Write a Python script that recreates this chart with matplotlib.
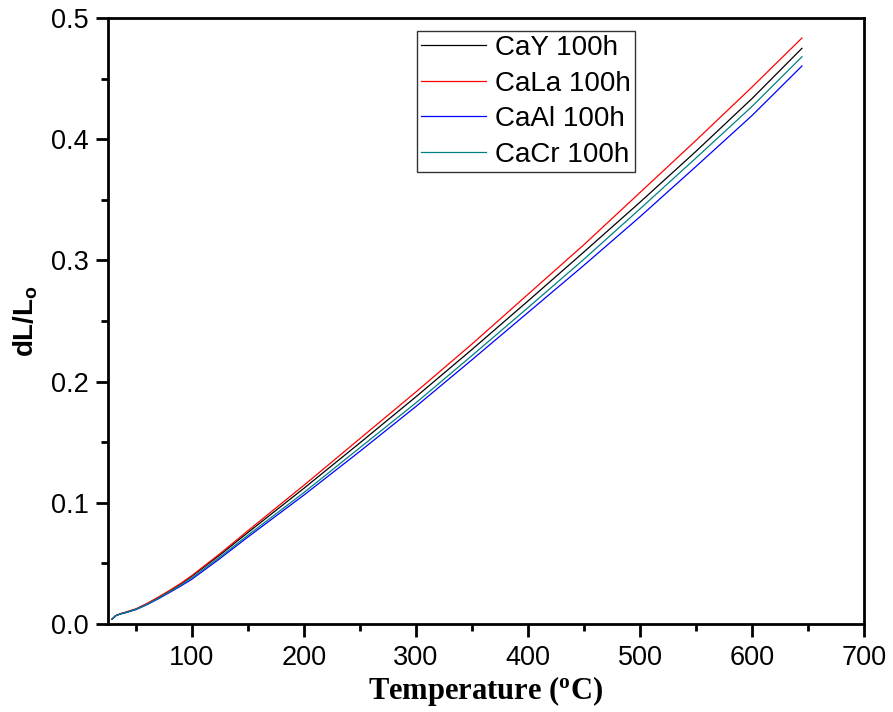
import matplotlib
matplotlib.use("Agg")
import matplotlib.pyplot as plt
from matplotlib.ticker import MultipleLocator

plt.rcParams["mathtext.fontset"] = "custom"
plt.rcParams["mathtext.bf"] = "Liberation Serif:bold"
plt.rcParams["mathtext.sf"] = "Liberation Sans:bold"

# Dilatometry data: relative expansion vs temperature
temperature = [28.6, 32, 36, 40, 50, 60, 70, 80, 90, 100, 125, 150, 200,
               250, 300, 350, 400, 450, 500, 550, 600, 644.6]
cay = [0.004, 0.0069, 0.0084, 0.0094, 0.0123, 0.0167, 0.0218, 0.0272, 0.0330,
       0.0395, 0.0570, 0.0755, 0.1120, 0.1495, 0.1875, 0.2265, 0.2665, 0.3070,
       0.3480, 0.3900, 0.4335, 0.4750]
cala = [0.004, 0.0070, 0.0085, 0.0095, 0.0125, 0.0170, 0.0222, 0.0277, 0.0335,
        0.0400, 0.0580, 0.0770, 0.1145, 0.1530, 0.1915, 0.2310, 0.2720, 0.3130,
        0.3560, 0.3990, 0.4430, 0.4835]
caal = [0.004, 0.0068, 0.0082, 0.0091, 0.0119, 0.0160, 0.0208, 0.0260, 0.0313,
        0.0370, 0.0540, 0.0718, 0.1064, 0.1425, 0.1795, 0.2180, 0.2570, 0.2960,
        0.3360, 0.3775, 0.4195, 0.4604]
cacr = [0.004, 0.0069, 0.0083, 0.0092, 0.0121, 0.0163, 0.0213, 0.0266, 0.0321,
        0.0382, 0.0553, 0.0733, 0.1085, 0.1455, 0.1825, 0.2215, 0.2610, 0.3010,
        0.3425, 0.3845, 0.4270, 0.4680]

labels = ["CaY 100h", "CaLa 100h", "CaAl 100h", "CaCr 100h"]
colors = ["#000000", "#ff0000", "#0000ff", "#008080"]

fig = plt.figure(figsize=(8.93, 7.12), dpi=100)
ax = fig.add_axes([0.1209, 0.1236, 0.8466, 0.8511])

for series, lab, col in zip([cay, cala, caal, cacr], labels, colors):
    ax.plot(temperature, series, color=col, lw=0.9, label=lab)

ax.set_xlim(25, 700)
ax.set_ylim(0.0, 0.5)
ax.xaxis.set_major_locator(MultipleLocator(100))
ax.xaxis.set_minor_locator(MultipleLocator(50))
ax.yaxis.set_major_locator(MultipleLocator(0.1))
ax.yaxis.set_minor_locator(MultipleLocator(0.05))

for sp in ax.spines.values():
    sp.set_linewidth(2.0)

ax.tick_params(which="major", direction="out", length=9, width=2.0,
               labelsize=19.5, pad=5)
ax.tick_params(which="minor", direction="out", length=5, width=2.0)
for lab in ax.get_xticklabels() + ax.get_yticklabels():
    lab.set_fontfamily("Liberation Sans")
ax.tick_params(axis="x", pad=6)

ax.set_xlabel("Temperature ($\\mathbf{^{o}}$C)", fontsize=22,
              fontfamily="Liberation Serif", fontweight="bold", labelpad=2)
ax.set_ylabel("dL/L$_\\mathsf{o}$", fontsize=20,
              fontfamily="Liberation Sans", fontweight="bold", labelpad=8)

leg = ax.legend(loc="upper left", bbox_to_anchor=(0.409, 0.9785),
                borderaxespad=0, frameon=True, fancybox=False,
                prop={"family": "Liberation Sans", "size": 20},
                handlelength=2.34, handletextpad=0.32, borderpad=0.15,
                labelspacing=0.34)
leg.get_frame().set_edgecolor("black")
leg.get_frame().set_linewidth(1.0)

fig.savefig("out.png", dpi=100)
